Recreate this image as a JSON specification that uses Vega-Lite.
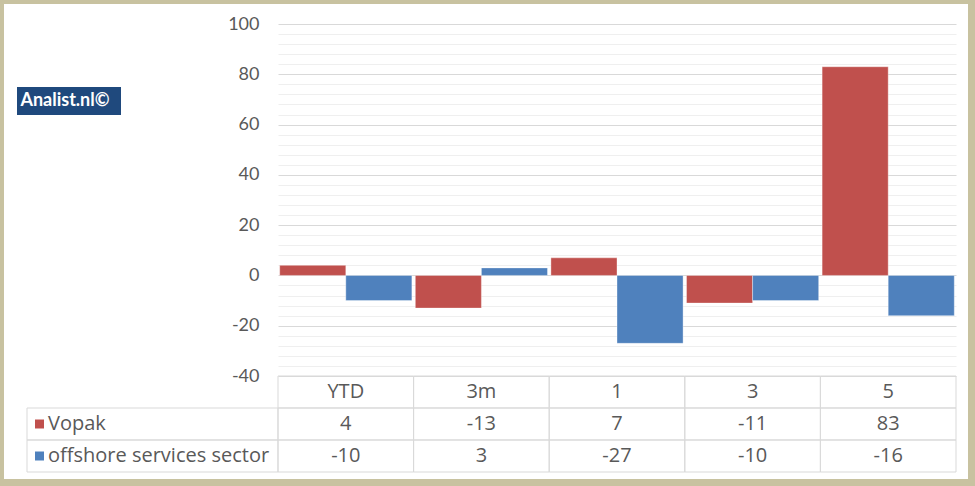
{
  "$schema": "https://vega.github.io/schema/vega-lite/v6.json",
  "width": 964,
  "height": 475,
  "autosize": {"type": "none"},
  "padding": {"left": 4, "top": 4, "right": 7, "bottom": 7},
  "background": "#c8c2a0",
  "config": {"view": {"fill": "white", "stroke": null}, "font": "Lato"},
  "datasets": {
    "perf": [
      {"period": "YTD", "series": "Vopak", "value": 4},
      {"period": "YTD", "series": "offshore services sector", "value": -10},
      {"period": "3m", "series": "Vopak", "value": -13},
      {"period": "3m", "series": "offshore services sector", "value": 3},
      {"period": "1", "series": "Vopak", "value": 7},
      {"period": "1", "series": "offshore services sector", "value": -27},
      {"period": "3", "series": "Vopak", "value": -11},
      {"period": "3", "series": "offshore services sector", "value": -10},
      {"period": "5", "series": "Vopak", "value": 83},
      {"period": "5", "series": "offshore services sector", "value": -16}
    ],
    "badge": [{"label": "Analist.nl©"}]
  },
  "data": {"name": "perf"},
  "resolve": {"scale": {"x": "independent", "y": "independent", "color": "independent"}},
  "layer": [
    {
      "mark": {"type": "bar", "opacity": 0},
      "encoding": {
        "x": {"field": "period", "type": "nominal", "sort": null, "scale": {"domain": ["YTD", "3m", "1", "3", "5"], "range": [274, 952], "paddingInner": 0, "paddingOuter": 0}, "axis": null},
        "y": {"field": "value", "type": "quantitative", "scale": {"domain": [-40, 100], "range": [372, 20], "nice": false, "zero": false},
          "axis": {"orient": "left", "offset": -274, "values": [-36, -32, -28, -24, -16, -12, -8, -4, 4, 8, 12, 16, 24, 28, 32, 36, 44, 48, 52, 56, 64, 68, 72, 76, 84, 88, 92, 96], "grid": true, "gridColor": "#efefef", "gridWidth": 1, "labels": false, "ticks": false, "domain": false, "title": null}}
      }
    },
    {
      "mark": {"type": "bar", "stroke": "#ffffff", "strokeWidth": 0.6, "strokeOpacity": 0.6},
      "encoding": {
        "x": {"field": "period", "type": "nominal", "sort": null, "scale": {"domain": ["YTD", "3m", "1", "3", "5"], "range": [274, 952], "paddingInner": 0, "paddingOuter": 0}, "axis": null},
        "xOffset": {"field": "series", "type": "nominal", "sort": null, "scale": {"domain": ["Vopak", "offshore services sector"], "paddingInner": 0, "paddingOuter": 0.026}},
        "y": {"field": "value", "type": "quantitative", "scale": {"domain": [-40, 100], "range": [372, 20], "nice": false, "zero": false},
          "axis": {"orient": "left", "offset": -274, "values": [-40, -20, 0, 20, 40, 60, 80, 100], "grid": true, "gridColor": "#d9d9d9", "gridWidth": 1, "domain": false, "ticks": false, "labelPadding": 19, "labelFontSize": 18, "labelColor": "#595959", "labelFont": "Lato", "labelExpr": "datum.value + ''", "title": null}},
        "color": {"field": "series", "type": "nominal", "scale": {"domain": ["Vopak", "offshore services sector"], "range": ["#c0504d", "#4f81bd"]}, "legend": null}
      }
    },
    {
      "mark": {"type": "rect", "filled": false, "stroke": "#d9d9d9", "strokeWidth": 1},
      "encoding": {
        "x": {"field": "period", "type": "nominal", "sort": null, "scale": {"domain": ["YTD", "3m", "1", "3", "5"], "range": [274, 952], "paddingInner": 0, "paddingOuter": 0}, "axis": null},
        "y": {"field": "series", "type": "nominal", "sort": null, "scale": {"domain": ["hdr", "Vopak", "offshore services sector"], "range": [372, 468], "paddingInner": 0, "paddingOuter": 0}, "axis": null}
      }
    },
    {
      "transform": [{"aggregate": [{"op": "count", "as": "n"}], "groupby": ["period"]}],
      "mark": {"type": "rect", "filled": false, "stroke": "#d9d9d9", "strokeWidth": 1},
      "encoding": {
        "x": {"field": "period", "type": "nominal", "sort": null, "scale": {"domain": ["YTD", "3m", "1", "3", "5"], "range": [274, 952], "paddingInner": 0, "paddingOuter": 0}, "axis": null},
        "y": {"datum": "hdr", "type": "nominal", "scale": {"domain": ["hdr", "Vopak", "offshore services sector"], "range": [372, 468], "paddingInner": 0, "paddingOuter": 0}, "axis": null}
      }
    },
    {
      "mark": {"type": "text", "fontSize": 20, "color": "#595959", "font": "Open Sans"},
      "encoding": {
        "x": {"field": "period", "type": "nominal", "sort": null, "scale": {"domain": ["YTD", "3m", "1", "3", "5"], "range": [274, 952], "paddingInner": 0, "paddingOuter": 0}, "axis": null},
        "y": {"field": "series", "type": "nominal", "sort": null, "scale": {"domain": ["hdr", "Vopak", "offshore services sector"], "range": [372, 468], "paddingInner": 0, "paddingOuter": 0}, "axis": null},
        "text": {"field": "value", "type": "nominal"}
      }
    },
    {
      "transform": [{"aggregate": [{"op": "count", "as": "n"}], "groupby": ["period"]}],
      "mark": {"type": "text", "fontSize": 20, "color": "#595959", "font": "Open Sans"},
      "encoding": {
        "x": {"field": "period", "type": "nominal", "sort": null, "scale": {"domain": ["YTD", "3m", "1", "3", "5"], "range": [274, 952], "paddingInner": 0, "paddingOuter": 0}, "axis": null},
        "y": {"datum": "hdr", "type": "nominal", "scale": {"domain": ["hdr", "Vopak", "offshore services sector"], "range": [372, 468], "paddingInner": 0, "paddingOuter": 0}, "axis": null},
        "text": {"field": "period", "type": "nominal"}
      }
    },
    {
      "transform": [{"aggregate": [{"op": "count", "as": "n"}], "groupby": ["series"]}],
      "mark": {"type": "rect", "filled": false, "stroke": "#d9d9d9", "strokeWidth": 1},
      "encoding": {
        "x": {"datum": "lbl", "type": "nominal", "scale": {"domain": ["lbl"], "range": [23, 274], "paddingInner": 0, "paddingOuter": 0}, "axis": null},
        "y": {"field": "series", "type": "nominal", "sort": null, "scale": {"domain": ["hdr", "Vopak", "offshore services sector"], "range": [372, 468], "paddingInner": 0, "paddingOuter": 0}, "axis": null}
      }
    },
    {
      "transform": [{"aggregate": [{"op": "count", "as": "n"}], "groupby": ["series"]}],
      "mark": {"type": "point", "shape": "square", "filled": true, "size": 81, "opacity": 1, "xOffset": -113},
      "encoding": {
        "x": {"datum": "lbl", "type": "nominal", "scale": {"domain": ["lbl"], "range": [23, 274], "paddingInner": 0, "paddingOuter": 0}, "axis": null},
        "y": {"field": "series", "type": "nominal", "sort": null, "scale": {"domain": ["hdr", "Vopak", "offshore services sector"], "range": [372, 468], "paddingInner": 0, "paddingOuter": 0}, "axis": null},
        "color": {"field": "series", "type": "nominal", "scale": {"domain": ["Vopak", "offshore services sector"], "range": ["#c0504d", "#4f81bd"]}, "legend": null}
      }
    },
    {
      "transform": [{"aggregate": [{"op": "count", "as": "n"}], "groupby": ["series"]}],
      "mark": {"type": "text", "fontSize": 20, "color": "#595959", "font": "Open Sans", "align": "left", "dx": -104.5},
      "encoding": {
        "x": {"datum": "lbl", "type": "nominal", "scale": {"domain": ["lbl"], "range": [23, 274], "paddingInner": 0, "paddingOuter": 0}, "axis": null},
        "y": {"field": "series", "type": "nominal", "sort": null, "scale": {"domain": ["hdr", "Vopak", "offshore services sector"], "range": [372, 468], "paddingInner": 0, "paddingOuter": 0}, "axis": null},
        "text": {"field": "series", "type": "nominal"}
      }
    },
    {
      "data": {"name": "badge"},
      "encoding": {
        "x": {"field": "label", "type": "nominal", "scale": {"range": [13, 117], "paddingInner": 0, "paddingOuter": 0}, "axis": null},
        "y": {"field": "label", "type": "nominal", "scale": {"range": [83, 111], "paddingInner": 0, "paddingOuter": 0}, "axis": null}
      },
      "layer": [
        {"mark": {"type": "rect", "color": "#1f497d"}},
        {"mark": {"type": "text", "color": "white", "fontSize": 18, "fontWeight": "bold", "font": "Lato", "dx": -4}, "encoding": {"text": {"field": "label", "type": "nominal"}}}
      ]
    }
  ]
}
